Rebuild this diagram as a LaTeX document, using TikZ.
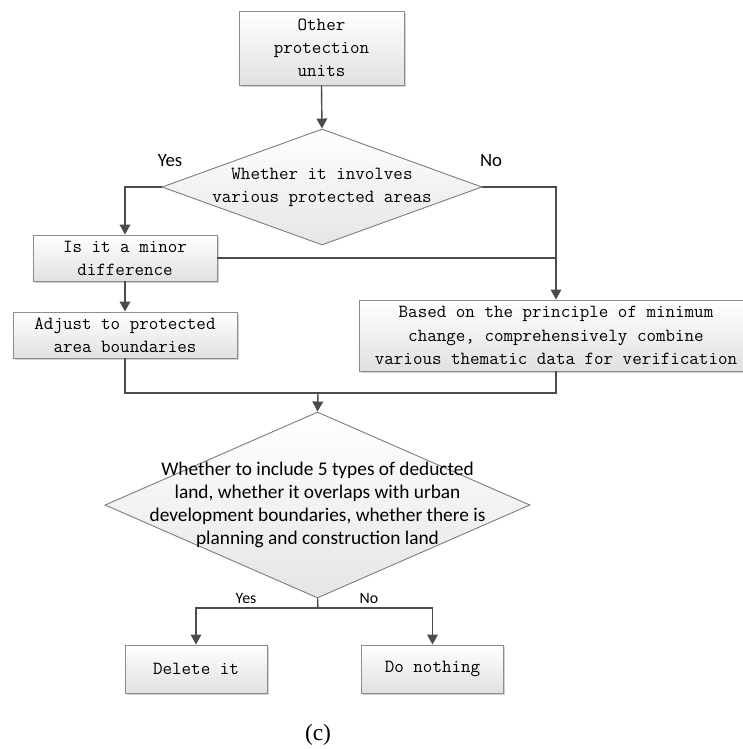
\documentclass[tikz,border=0pt]{standalone}
\usepackage{fontspec}
\usepackage{tikz}
\usetikzlibrary{shapes.geometric,arrows.meta,shadows}
\newfontfamily\labelfont{Carlito}
\newfontfamily\capfont{Liberation Serif}

\tikzset{
  box/.style = {draw=black!45, line width=0.8pt, top color=white, bottom color=black!12,
                drop shadow={shadow xshift=1.6pt, shadow yshift=-1.6pt, fill=black!35, opacity=0.5},
                inner sep=0pt, align=center, font=\ttfamily\fontsize{15.8}{19.8}\selectfont},
  decision/.style = {diamond, draw=black!50, line width=0.8pt, top color=white, bottom color=black!10,
                inner sep=0pt},
  monotext/.style = {align=center, inner sep=0pt, font=\ttfamily\fontsize{15.8}{19.8}\selectfont},
  sanstext/.style = {align=center, inner sep=0pt, font=\labelfont\fontsize{16.5}{19.8}\selectfont},
  answer/.style = {inner sep=0pt, font=\labelfont\fontsize{16}{19}\selectfont},
  flow/.style = {draw=black!70, line width=1.2pt},
  arrow/.style = {flow, -{Triangle[length=3mm, width=3.2mm]}}
}

\begin{document}
\begin{tikzpicture}[x=0.03cm, y=-0.03cm]
    \useasboundingbox (0,0) rectangle (742,749);

    % Top part
    \node[box, minimum width=4.95cm, minimum height=2.22cm] (units) at (321.5,48) {Other\\protection\\units};
    \node[decision, minimum width=9.6cm, minimum height=3.48cm] (areas) at (322,187) {};
    \node[monotext] (areastext) at (areas.center) {Whether it involves\\various protected areas};

    % Left branch
    \node[box, minimum width=5.52cm, minimum height=1.38cm] (minor) at (125,258) {Is it a minor\\difference};
    \node[box, minimum width=6.72cm, minimum height=1.38cm] (adjust) at (125,335) {Adjust to protected\\area boundaries};

    % Right branch (box runs past the right edge)
    \node[box, minimum width=11.82cm, minimum height=2.13cm] (verify) at (556,335.5) {Based on the principle of minimum\\change, comprehensively combine\\various thematic data for verification};

    % Second decision
    \node[decision, minimum width=12.75cm, minimum height=5.58cm] (land) at (317.5,505) {};
    \node[sanstext] (landtext) at (land.center) {Whether to include 5 types of deducted\\land, whether it overlaps with urban\\development boundaries, whether there is\\planning and construction land};

    \node[box, minimum width=4.26cm, minimum height=1.44cm] (delete) at (196,669) {Delete it};
    \node[box, minimum width=4.26cm, minimum height=1.44cm] (nothing) at (432.5,669) {Do nothing};

    \coordinate (merge) at (318,393);
    \coordinate (split) at (318,608);

    % Connectors
    \draw[arrow] (units.south) -- (areas.north);
    \draw[arrow] (areas.west) -| (minor.north);
    \draw[arrow] (areas.east) -| (verify.north);
    \draw[flow] (minor.east) -- (minor.east -| verify.north);
    \draw[arrow] (minor.south) -- (adjust.north);
    \draw[flow] (adjust.south) |- (merge) -| (verify.south);
    \draw[arrow] (merge) -- (land.north);
    \draw[flow] (land.south) -- (split);
    \draw[arrow] (split) -| (delete.north);
    \draw[arrow] (split) -| (nothing.north);

    % Labels
    \node[answer] (yes1) at (170,161) {Yes};
    \node[answer] (no1) at (491,161) {No};
    \node[answer, font=\labelfont\fontsize{13.5}{16}\selectfont] (yes2) at (246,598) {Yes};
    \node[answer, font=\labelfont\fontsize{13.5}{16}\selectfont] (no2) at (369,598) {No};

    \node[font=\capfont\fontsize{20}{23}\selectfont] (caption) at (318,735) {(c)};
\end{tikzpicture}
\end{document}
